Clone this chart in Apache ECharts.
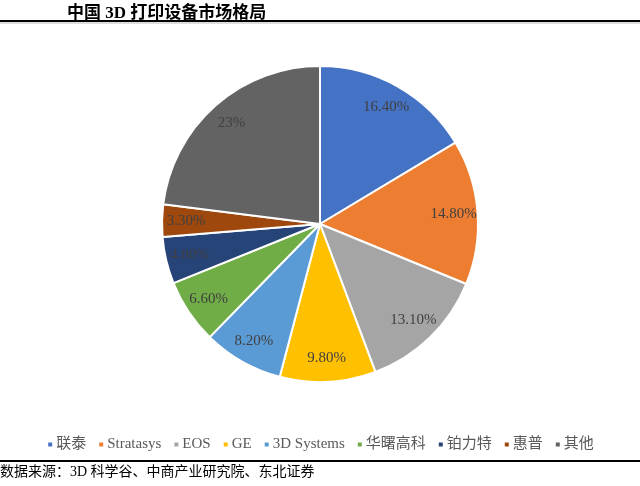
<!DOCTYPE html>
<html>
<head>
<meta charset="utf-8">
<script src="https://cdn.jsdelivr.net/npm/echarts@6/dist/echarts.min.js"></script>
<style>
html, body { margin: 0; padding: 0; background: #fff; }
#chart { width: 640px; height: 486px; }
</style>
</head>
<body>
<div id="chart"></div>
<script>
var names = ['联泰', 'Stratasys', 'EOS', 'GE', '3D Systems', '华曙高科', '铂力特', '惠普', '其他'];
var shares = [16.4, 14.8, 13.1, 9.8, 8.2, 6.6, 4.8, 3.3, 23];
var shareLabels = ['16.40%', '14.80%', '13.10%', '9.80%', '8.20%', '6.60%', '4.80%', '3.30%', '23%'];
var colors = ['#4472C4', '#ED7D31', '#A5A5A5', '#FFC000', '#5B9BD5', '#70AD47', '#264478', '#9E480E', '#636363'];

var serif = '"Liberation Serif", "Noto Sans CJK SC", serif';

(function()
{
	var mychart = echarts.init(document.getElementById('chart'));

	var pieData = names.map((name, idx) => ({
		name: name,
		value: shares[idx],
		itemStyle: {color: colors[idx]}
	}));
	// 标签层：透明环，让标签落在半径约0.8处
	var labelData = names.map((name, idx) => ({
		name: name,
		value: shares[idx],
		label: {formatter: shareLabels[idx]}
	}));

	var option = {
		animation: false,
		backgroundColor: '#fff',
		color: colors,
		title: {
			text: '中国 3D 打印设备市场格局',
			left: 62,
			top: 0,
			textStyle: {
				fontFamily: serif,
				fontSize: 17,
				fontWeight: 'bold',
				color: '#000'
			}
		},
		legend: {
			data: names,
			left: 'center',
			top: 432,
			itemWidth: 6,
			itemHeight: 6,
			itemGap: 11,
			icon: 'rect',
			textStyle: {
				fontFamily: serif,
				fontSize: 15,
				color: '#595959',
				padding: [0, 0, 0, -2]
			}
		},
		graphic: [
			{type: 'rect', shape: {x: 0, y: 20, width: 640, height: 2}, style: {fill: '#000'}},
			{type: 'rect', shape: {x: 0, y: 22.5, width: 640, height: 1}, style: {fill: '#bbb'}},
			{type: 'rect', shape: {x: 0, y: 460, width: 640, height: 2}, style: {fill: '#000'}},
			{
				type: 'text',
				left: 0,
				top: 465,
				style: {
					text: '数据来源：3D 科学谷、中商产业研究院、东北证券',
					font: '14px "Liberation Serif", "Noto Sans CJK SC", sans-serif',
					fill: '#000'
				}
			}
		],
		series: [
			{
				type: 'pie',
				center: [320, 224],
				radius: [0, 158],
				startAngle: 90,
				clockwise: true,
				label: {show: false},
				labelLine: {show: false},
				itemStyle: {borderColor: '#fff', borderWidth: 2},
				emphasis: {disabled: true},
				data: pieData
			},
			{
				type: 'pie',
				center: [320, 224],
				radius: [102, 160],
				startAngle: 90,
				clockwise: true,
				silent: true,
				itemStyle: {color: 'rgba(0,0,0,0)'},
				label: {
					show: true,
					position: 'inside',
					fontFamily: serif,
					fontSize: 15,
					color: '#404040'
				},
				labelLine: {show: false},
				emphasis: {disabled: true},
				data: labelData
			}
		]
	};
	mychart.setOption(option);
})();
</script>
</body>
</html>
